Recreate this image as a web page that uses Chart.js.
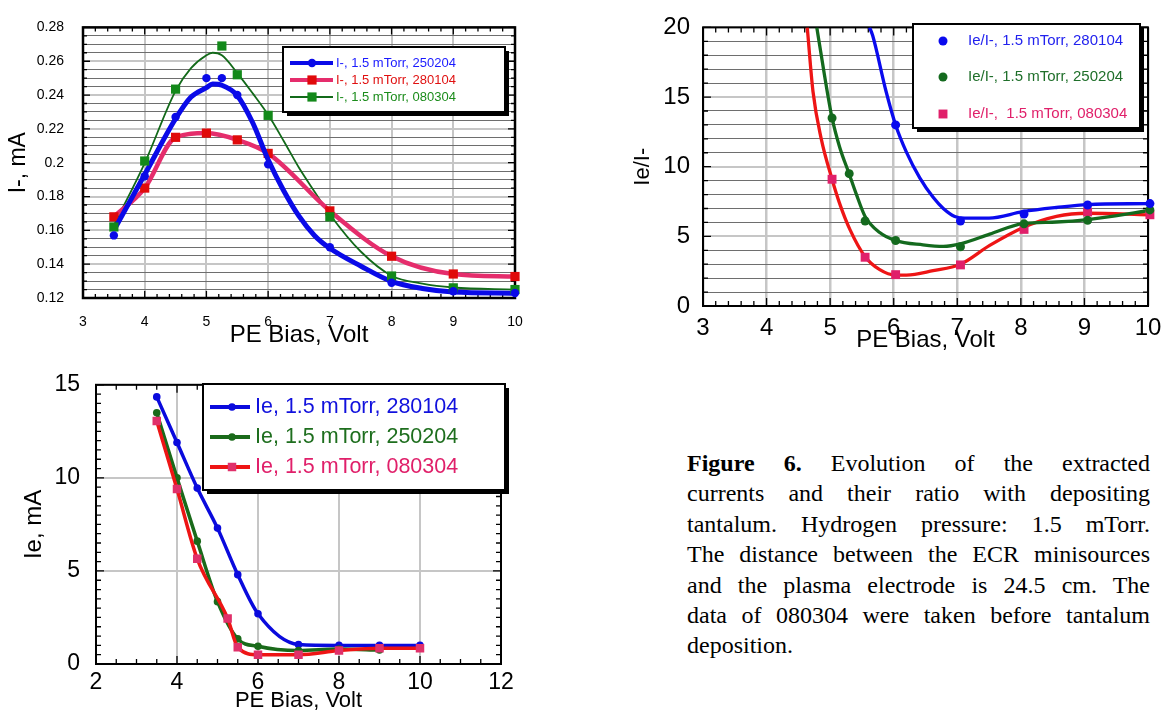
<!DOCTYPE html>
<html>
<head>
<meta charset="utf-8">
<script src="https://cdn.jsdelivr.net/npm/chart.js@4.4.1/dist/chart.umd.min.js"></script>
<style>
  html, body { margin: 0; padding: 0; background: #fff; }
  body { width: 1170px; height: 714px; position: relative; overflow: hidden; }
  canvas { position: absolute; }
  #caption {
    position: absolute; left: 687px; top: 448px; width: 463px;
    font-family: "Liberation Serif", "Times New Roman", serif;
    font-size: 24px; line-height: 30.4px; color: #000;
  }
  #caption div { text-align: justify; text-align-last: justify; }
  #caption div.last { text-align-last: left; }
</style>
</head>
<body>
<canvas id="chartI" width="540" height="350" style="left:0;top:0"></canvas>
<canvas id="chartRatio" width="550" height="355" style="left:620px;top:0"></canvas>
<canvas id="chartIe" width="560" height="359" style="left:0;top:355px"></canvas>
<div id="caption">
  <div><b>Figure 6.</b> Evolution of the extracted</div>
  <div>currents and their ratio with depositing</div>
  <div>tantalum. Hydrogen pressure: 1.5 mTorr.</div>
  <div>The distance between the ECR minisources</div>
  <div>and the plasma electrode is 24.5 cm. The</div>
  <div>data of 080304 were taken before tantalum</div>
  <div class="last">deposition.</div>
</div>
<script>
// ---- top left: I- (mA) vs PE bias ----
const iBiasBlue = [3.5, 4, 4.5, 5, 5.25, 5.5, 6, 7, 8, 9, 10];
const iBlue = [0.157, 0.192, 0.227, 0.250, 0.250, 0.240, 0.199, 0.150, 0.129, 0.124, 0.123];
const iBiasRed = [3.5, 4, 4.5, 5, 5.5, 6, 7, 8, 9, 10];
const iRed = [0.168, 0.185, 0.215, 0.2175, 0.2135, 0.2055, 0.1715, 0.1447, 0.1342, 0.1327];
const iBiasGreen = [3.5, 4, 4.5, 5.25, 5.5, 6, 7, 8, 9, 10];
const iGreen = [0.162, 0.201, 0.2435, 0.269, 0.252, 0.228, 0.168, 0.133, 0.126, 0.125];
// fitted curves as drawn in the figure
const iFitBias = [3.5, 4, 4.5, 4.75, 5, 5.1, 5.25, 5.5, 5.75, 6, 6.25, 6.5, 6.75, 7, 7.5, 8, 8.5, 9, 10];
const iFitBlue = [0.160, 0.193, 0.226, 0.2388, 0.2444, 0.2465, 0.2458, 0.2397, 0.2236, 0.2017, 0.1836, 0.1684, 0.157, 0.1494, 0.1389, 0.1298, 0.1256, 0.1235, 0.1228];
const iFitGreen = [0.163, 0.1998, 0.2425, 0.2559, 0.2635, 0.265, 0.2635, 0.253, 0.241, 0.2283, 0.213, 0.197, 0.183, 0.1694, 0.1475, 0.1332, 0.1285, 0.1262, 0.125];
const iLabels = ['I-, 1.5 mTorr, 250204', 'I-, 1.5 mTorr, 280104', 'I-, 1.5 mTorr, 080304'];

// ---- top right: Ie/I- ratio ----
const rBiasBlue = [6.03, 7.05, 8.05, 9.05, 10.03];
const rBlue = [13.0, 6.1, 6.6, 7.25, 7.35];
const rBiasGreen = [5.03, 5.3, 5.55, 6.03, 7.05, 8.05, 9.05, 10.03];
const rGreen = [13.5, 9.5, 6.1, 4.7, 4.25, 5.9, 6.15, 6.9];
const rBiasPink = [5.03, 5.55, 6.03, 7.05, 8.05, 9.05, 10.03];
const rPink = [9.1, 3.5, 2.25, 2.95, 5.5, 6.75, 6.55];
const rFitBlueBias = [5.62, 5.67, 5.88, 6.03, 6.2, 6.41, 6.62, 6.78, 6.96, 7.12, 7.5, 8.03, 8.56, 9.05, 10.0];
const rFitBlue = [20, 19.4, 15.4, 13.0, 11.05, 9.2, 7.8, 7.0, 6.43, 6.31, 6.31, 6.77, 7.07, 7.28, 7.35];
const rFitGreenBias = [4.79, 4.91, 5.03, 5.15, 5.3, 5.41, 5.55, 5.78, 6.03, 6.46, 6.78, 7.05, 7.51, 8.03, 8.56, 9.05, 10.0];
const rFitGreen = [20, 16.6, 13.5, 11.4, 9.48, 8.05, 6.43, 5.27, 4.69, 4.39, 4.28, 4.46, 5.16, 5.92, 6.03, 6.2, 6.84];
const rFitRedBias = [4.64, 4.73, 4.86, 5.03, 5.15, 5.31, 5.55, 5.78, 6.03, 6.2, 6.62, 7.05, 7.51, 8.03, 8.56, 9.05, 10.0];
const rFitRed = [20, 15.4, 12.0, 9.1, 7.35, 5.5, 3.54, 2.61, 2.22, 2.22, 2.54, 3.0, 4.35, 5.62, 6.43, 6.66, 6.54];
const rLabels = ['Ie/I-, 1.5 mTorr, 280104', 'Ie/I-, 1.5 mTorr, 250204', 'Ie/I-,  1.5 mTorr, 080304'];

// ---- bottom left: Ie (mA) ----
const eBiasBlue = [3.5, 4, 4.5, 5, 5.5, 6, 7, 8, 9, 10];
const eBlue = [14.35, 11.9, 9.45, 7.3, 4.8, 2.7, 1.05, 1.0, 1.0, 1.0];
const eBiasGreen = [3.5, 4, 4.5, 5, 5.5, 6, 7, 8, 9];
const eGreen = [13.5, 10.0, 6.6, 3.35, 1.35, 0.95, 0.72, 0.8, 0.75];
const eBiasRed = [3.5, 4, 4.5, 5.25, 5.5, 6, 7, 8, 9, 10];
const eRed = [13.05, 9.4, 5.65, 2.45, 0.9, 0.5, 0.5, 0.72, 0.85, 0.85];
const eLabels = ['Ie, 1.5 mTorr, 280104', 'Ie, 1.5 mTorr, 250204', 'Ie, 1.5 mTorr, 080304'];

const FONT = '"Liberation Sans", Arial, Helvetica, sans-serif';
Chart.defaults.font.family = FONT;
Chart.defaults.color = '#000';

const pts = (xs, ys) => xs.map((x, i) => ({ x: x, y: ys[i] }));
const isMult = (v, m) => Math.abs(v / m - Math.round(v / m)) < 1e-6;

function drawMarker(ctx, style, r, color, x, y) {
  ctx.fillStyle = color;
  ctx.beginPath();
  if (style === 'rect') {
    const s = r * Math.SQRT1_2;
    ctx.rect(x - s, y - s, 2 * s, 2 * s);
  } else {
    ctx.arc(x, y, r, 0, Math.PI * 2);
  }
  ctx.fill();
}

// black frame with inward ticks on all four sides
const framePlugin = {
  id: 'frame',
  beforeDatasetsDraw(chart, args, o) {
    const { ctx, chartArea: a, scales } = chart;
    const sx = scales.x, sy = scales.y;
    ctx.save();
    ctx.strokeStyle = '#000';
    ctx.lineWidth = 1.3;
    const nx = Math.round((sx.max - sx.min) / o.xMinor);
    for (let i = 0; i <= nx; i++) {
      const v = sx.min + i * o.xMinor;
      const len = isMult(v, o.xMajor) ? o.majorLen : o.minorLen;
      const px = sx.getPixelForValue(v);
      ctx.beginPath();
      ctx.moveTo(px, a.bottom); ctx.lineTo(px, a.bottom - len);
      ctx.moveTo(px, a.top); ctx.lineTo(px, a.top + len);
      ctx.stroke();
    }
    const ny = Math.round((sy.max - sy.min) / o.yMinor);
    for (let i = 0; i <= ny; i++) {
      const v = sy.min + i * o.yMinor;
      const len = isMult(v, o.yMajor) ? o.majorLen : o.minorLen;
      const py = sy.getPixelForValue(v);
      ctx.beginPath();
      ctx.moveTo(a.left, py); ctx.lineTo(a.left + len, py);
      ctx.moveTo(a.right, py); ctx.lineTo(a.right - len, py);
      ctx.stroke();
    }
    ctx.lineWidth = o.width;
    ctx.strokeRect(a.left, a.top, a.right - a.left, a.bottom - a.top);
    ctx.restore();
  }
};

// boxed legend with a drop shadow, drawn inside the plot
const boxLegend = {
  id: 'boxLegend',
  afterDraw(chart, args, o) {
    const ctx = chart.ctx;
    const [l, t, r, b] = o.box;
    ctx.save();
    ctx.fillStyle = '#000';
    ctx.fillRect(l + o.shadow, t + o.shadow, r - l, b - t);
    ctx.fillStyle = '#fff';
    ctx.fillRect(l, t, r - l, b - t);
    ctx.strokeStyle = '#000';
    ctx.lineWidth = 2;
    ctx.strokeRect(l, t, r - l, b - t);
    ctx.font = o.font;
    ctx.textBaseline = 'middle';
    ctx.textAlign = 'left';
    o.items.forEach((it, i) => {
      const ds = chart.data.datasets[it.ds];
      const y = o.rows[i];
      if (it.line) {
        ctx.strokeStyle = it.line;
        ctx.lineWidth = it.lineWidth;
        ctx.beginPath();
        ctx.moveTo(o.lineX[0], y); ctx.lineTo(o.lineX[1], y);
        ctx.stroke();
      }
      drawMarker(ctx, ds.pointStyle, ds.pointRadius, ds.pointBackgroundColor || ds.backgroundColor, o.markX, y);
      ctx.fillStyle = it.text;
      ctx.fillText(ds.label, o.textX, y);
    });
    ctx.restore();
  }
};

function linearAxis(a) {
  return {
    type: 'linear', min: a.min, max: a.max,
    border: { display: false },
    grid: { color: a.gridColor, lineWidth: a.gridWidth, drawTicks: false },
    ticks: { stepSize: a.step, autoSkip: false, maxRotation: 0, padding: a.pad, font: { size: a.font }, callback: a.label },
    title: { display: true, text: a.title, font: { size: a.titleFont }, padding: a.titlePad },
    afterFit: s => { if (s.isHorizontal()) s.height = a.size; else s.width = a.size; }
  };
}

function makeChart(id, datasets, scales, padding, frame, legend) {
  return new Chart(document.getElementById(id), {
    type: 'scatter',
    data: { datasets: datasets },
    options: {
      responsive: false,
      animation: false,
      layout: { padding: padding },
      scales: scales,
      plugins: { legend: { display: false }, tooltip: { enabled: false }, frame: frame, boxLegend: legend }
    },
    plugins: [framePlugin, boxLegend]
  });
}

const lightGrid = '#c6c6c6';
const darkGrid = '#6e6e6e';
const plainLabel = v => String(v);

// chart 1
makeChart('chartI', [
  { label: iLabels[0], data: pts(iBiasBlue, iBlue), pointStyle: 'circle', pointRadius: 4.2, pointBorderWidth: 0,
    backgroundColor: '#0a0ae8', borderColor: '#0a0ae8', clip: false, order: 1 },
  { data: pts(iFitBias, iFitBlue), showLine: true, borderColor: '#0a0ae8', borderWidth: 5, pointRadius: 0,
    cubicInterpolationMode: 'monotone', order: 2 },
  { label: iLabels[1], data: pts(iBiasRed, iRed), showLine: true, borderColor: '#e52d6c', borderWidth: 4.5,
    pointStyle: 'rect', pointRadius: 6.5, pointBorderWidth: 0, pointBackgroundColor: '#e00a0a',
    cubicInterpolationMode: 'monotone', clip: false, order: 3 },
  { label: iLabels[2], data: pts(iBiasGreen, iGreen), pointStyle: 'rect', pointRadius: 6.5, pointBorderWidth: 0,
    backgroundColor: '#13891a', borderColor: '#13891a', clip: false, order: 1 },
  { data: pts(iFitBias, iFitGreen), showLine: true, borderColor: '#136a1a', borderWidth: 1.8, pointRadius: 0,
    cubicInterpolationMode: 'monotone', order: 4 }
], {
  x: linearAxis({ min: 3, max: 10, step: 1, font: 14, pad: 16, title: 'PE Bias, Volt', titleFont: 24,
    titlePad: { top: 0, bottom: 0 }, size: 52, gridColor: lightGrid, gridWidth: 2, label: plainLabel }),
  y: linearAxis({ min: 0.12, max: 0.28, step: 0.005, font: 14, pad: 19, title: 'I-, mA', titleFont: 23,
    titlePad: { top: 5, bottom: 0 }, size: 83,
    gridColor: c => isMult(c.tick.value, 0.02) ? lightGrid : darkGrid,
    gridWidth: c => isMult(c.tick.value, 0.02) ? 2 : 1,
    label: v => isMult(v, 0.02) ? String(+v.toFixed(2)) : '' })
}, { top: 18, right: 25, left: 0, bottom: 0 },
{ xMinor: 0.2, xMajor: 1, yMinor: 0.005, yMajor: 0.02, minorLen: 4, majorLen: 7, width: 2.5 },
{ box: [283, 47, 505, 112], shadow: 4, font: '13px ' + FONT, rows: [63, 80, 97], lineX: [290, 333], markX: 312, textX: 336,
  items: [
    { ds: 0, text: '#1a1aff', line: '#0a0ae8', lineWidth: 4 },
    { ds: 2, text: '#e01010', line: '#e52d6c', lineWidth: 4 },
    { ds: 3, text: '#1b8c1b', line: '#136a1a', lineWidth: 2 }
  ] });

// chart 2
makeChart('chartRatio', [
  { label: rLabels[0], data: pts(rBiasBlue, rBlue), pointStyle: 'circle', pointRadius: 4.5, pointBorderWidth: 0,
    backgroundColor: '#0a0aee', borderColor: '#0a0aee', clip: false, order: 1 },
  { label: rLabels[1], data: pts(rBiasGreen, rGreen), pointStyle: 'circle', pointRadius: 4.5, pointBorderWidth: 0,
    backgroundColor: '#146a1e', borderColor: '#146a1e', clip: false, order: 1 },
  { label: rLabels[2], data: pts(rBiasPink, rPink), pointStyle: 'rect', pointRadius: 6.3, pointBorderWidth: 0,
    backgroundColor: '#e0206a', borderColor: '#e0206a', clip: false, order: 1 },
  { data: pts(rFitBlueBias, rFitBlue), showLine: true, borderColor: '#0a0aee', borderWidth: 3.3, pointRadius: 0,
    cubicInterpolationMode: 'monotone', order: 2 },
  { data: pts(rFitGreenBias, rFitGreen), showLine: true, borderColor: '#146a1e', borderWidth: 3.3, pointRadius: 0,
    cubicInterpolationMode: 'monotone', order: 3 },
  { data: pts(rFitRedBias, rFitRed), showLine: true, borderColor: '#ee1515', borderWidth: 3.3, pointRadius: 0,
    cubicInterpolationMode: 'monotone', order: 4 }
], {
  x: linearAxis({ min: 3, max: 10, step: 1, font: 24, pad: 8, title: 'PE Bias, Volt', titleFont: 24,
    titlePad: { top: 0, bottom: 0 }, size: 49, gridColor: lightGrid, gridWidth: 2.5, label: plainLabel }),
  y: linearAxis({ min: 0, max: 20, step: 1, font: 24, pad: 13, title: 'Ie/I-', titleFont: 22,
    titlePad: { top: 10, bottom: 0 }, size: 83,
    gridColor: c => isMult(c.tick.value, 5) ? lightGrid : darkGrid,
    gridWidth: c => isMult(c.tick.value, 5) ? 2 : 1,
    label: v => isMult(v, 5) ? String(Math.round(v)) : '' })
}, { top: 18, right: 22, left: 0, bottom: 0 },
{ xMinor: 0.2, xMajor: 1, yMinor: 1, yMajor: 5, minorLen: 5, majorLen: 8, width: 2 },
{ box: [293, 24, 520, 128], shadow: 4, font: '15px ' + FONT, rows: [41, 77, 114], lineX: null, markX: 323, textX: 348,
  items: [
    { ds: 0, text: '#2222ee' },
    { ds: 1, text: '#1f6f2a' },
    { ds: 2, text: '#e0206a' }
  ] });

// chart 3
makeChart('chartIe', [
  { label: eLabels[2], data: pts(eBiasRed, eRed), showLine: true, borderColor: '#ee1515', borderWidth: 3.5,
    pointStyle: 'rect', pointRadius: 6, pointBorderWidth: 0, pointBackgroundColor: '#e0306a',
    cubicInterpolationMode: 'monotone', order: 1 },
  { label: eLabels[1], data: pts(eBiasGreen, eGreen), showLine: true, borderColor: '#1a6a1a', borderWidth: 3.5,
    pointStyle: 'circle', pointRadius: 3.8, pointBorderWidth: 0, pointBackgroundColor: '#1a6a1a',
    cubicInterpolationMode: 'monotone', order: 2 },
  { label: eLabels[0], data: pts(eBiasBlue, eBlue), showLine: true, borderColor: '#0a0add', borderWidth: 3.5,
    pointStyle: 'circle', pointRadius: 3.8, pointBorderWidth: 0, pointBackgroundColor: '#0a0add',
    cubicInterpolationMode: 'monotone', order: 3 }
], {
  x: linearAxis({ min: 2, max: 12, step: 2, font: 23, pad: 5, title: 'PE Bias, Volt', titleFont: 22,
    titlePad: { top: 0, bottom: 0 }, size: 50, gridColor: lightGrid, gridWidth: 2, label: plainLabel }),
  y: linearAxis({ min: 0, max: 15, step: 5, font: 23, pad: 16, title: 'Ie, mA', titleFont: 24,
    titlePad: { top: 20, bottom: 0 }, size: 96, gridColor: lightGrid, gridWidth: 2, label: plainLabel })
}, { top: 24, right: 59, left: 0, bottom: 0 },
{ xMinor: 0.5, xMajor: 2, yMinor: 0.5, yMajor: 5, minorLen: 5, majorLen: 8, width: 2 },
{ box: [203, 29, 505, 135], shadow: 4, font: '21.5px ' + FONT, rows: [52, 82, 112], lineX: [210, 250], markX: 232, textX: 255,
  items: [
    { ds: 2, text: '#1111dd', line: '#0a0add', lineWidth: 4 },
    { ds: 1, text: '#1e6e1e', line: '#1a6a1a', lineWidth: 4 },
    { ds: 0, text: '#e0206a', line: '#ee1515', lineWidth: 4 }
  ] });
</script>
</body>
</html>
